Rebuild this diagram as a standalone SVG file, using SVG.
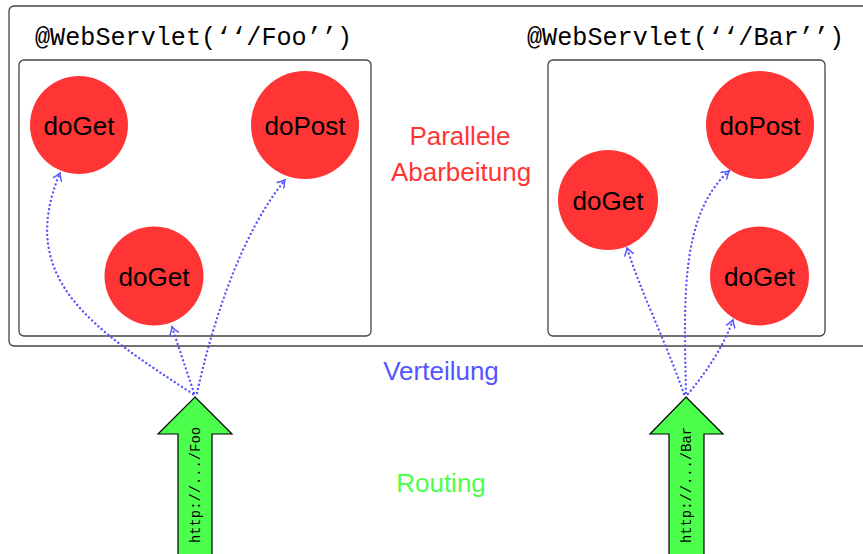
<svg xmlns="http://www.w3.org/2000/svg" width="863" height="554" viewBox="0 0 863 554">
<defs>
<style>
.box{fill:none;stroke:#444;stroke-width:1.3}
.node{fill:#ff3535}
.nt{font-family:"Liberation Sans",Arial,sans-serif;font-size:26px;fill:#000;text-anchor:middle}
.lbl{font-family:"Liberation Sans",Arial,sans-serif;font-size:26px;text-anchor:middle}
.tt{font-family:"Liberation Mono","DejaVu Sans Mono",monospace;font-size:25px;fill:#000}
.url{font-family:"Liberation Mono","DejaVu Sans Mono",monospace;font-size:14px;fill:#000}
.con{fill:none;stroke:#5555ff;stroke-width:2.4;stroke-linecap:round;stroke-dasharray:0.01 4.3}
.garrow{fill:#4dff4d;stroke:#000;stroke-width:1.2}
</style>
<marker id="ah" viewBox="-8 -5 10 10" markerWidth="10" markerHeight="10" refX="0" refY="0" orient="auto" markerUnits="userSpaceOnUse">
<path d="M-7,-4.5 Q-2.5,-1 0,0 Q-2.5,1 -7,4.5" fill="none" stroke="#5555ff" stroke-width="1.5" stroke-linecap="round"/>
</marker>
</defs>
<rect class="box" x="9" y="6" width="900" height="340" rx="5"/>
<g id="servletFoo">
<rect class="box" x="19" y="60" width="352" height="276" rx="5"/>
<text class="tt" x="35" y="45" textLength="317" lengthAdjust="spacingAndGlyphs">@WebServlet(‘‘/Foo’’)</text>
</g>
<g id="servletBar">
<rect class="box" x="548" y="60" width="277" height="276" rx="5"/>
<text class="tt" x="527" y="45" textLength="317" lengthAdjust="spacingAndGlyphs">@WebServlet(‘‘/Bar’’)</text>
</g>
<g id="fooGet1"><circle class="node" cx="79" cy="125" r="49"/><text class="nt" x="79" y="135">doGet</text></g>
<g id="fooPost"><circle class="node" cx="305" cy="125" r="54"/><text class="nt" x="305" y="135">doPost</text></g>
<g id="fooGet2"><circle class="node" cx="154" cy="276" r="49.5"/><text class="nt" x="154" y="286">doGet</text></g>
<g id="barGet1"><circle class="node" cx="608" cy="200" r="50"/><text class="nt" x="608" y="210">doGet</text></g>
<g id="barPost"><circle class="node" cx="760" cy="125" r="54"/><text class="nt" x="760" y="135">doPost</text></g>
<g id="barGet2"><circle class="node" cx="759.5" cy="276" r="49.5"/><text class="nt" x="759.5" y="286">doGet</text></g>
<g id="labels">
<text class="lbl" x="460" y="145" fill="#ff3535">Parallele</text>
<text class="lbl" x="461" y="181" fill="#ff3535">Abarbeitung</text>
<text class="lbl" x="441" y="380" fill="#5555ff">Verteilung</text>
<text class="lbl" x="441" y="492" fill="#4dff4d">Routing</text>
</g>
<g id="routeFoo">
<path class="garrow" d="M195,397 L232,434 L212,434 L212,560 L178,560 L178,434 L158,434 Z"/>
<text class="url" transform="translate(200,543) rotate(-90)" textLength="116" lengthAdjust="spacingAndGlyphs">http://.../Foo</text>
</g>
<g id="routeBar">
<path class="garrow" d="M686,397 L723,434 L704,434 L704,560 L669,560 L669,434 L650,434 Z"/>
<text class="url" transform="translate(691,543) rotate(-90)" textLength="116" lengthAdjust="spacingAndGlyphs">http://.../Bar</text>
</g>
<g id="connectors">
<path class="con" marker-end="url(#ah)" d="M193,394 C95,330 15,280 60,173"/>
<path class="con" marker-end="url(#ah)" d="M194,393 L172,327"/>
<path class="con" marker-end="url(#ah)" d="M197,393 C212,325 240,235 285,180"/>
<path class="con" marker-end="url(#ah)" d="M684,394 C665,340 640,290 627,248"/>
<path class="con" marker-end="url(#ah)" d="M686,393 C684,300 680,215 729,171"/>
<path class="con" marker-end="url(#ah)" d="M688,394 C708,370 724,345 733,320"/>
</g>
</svg>
